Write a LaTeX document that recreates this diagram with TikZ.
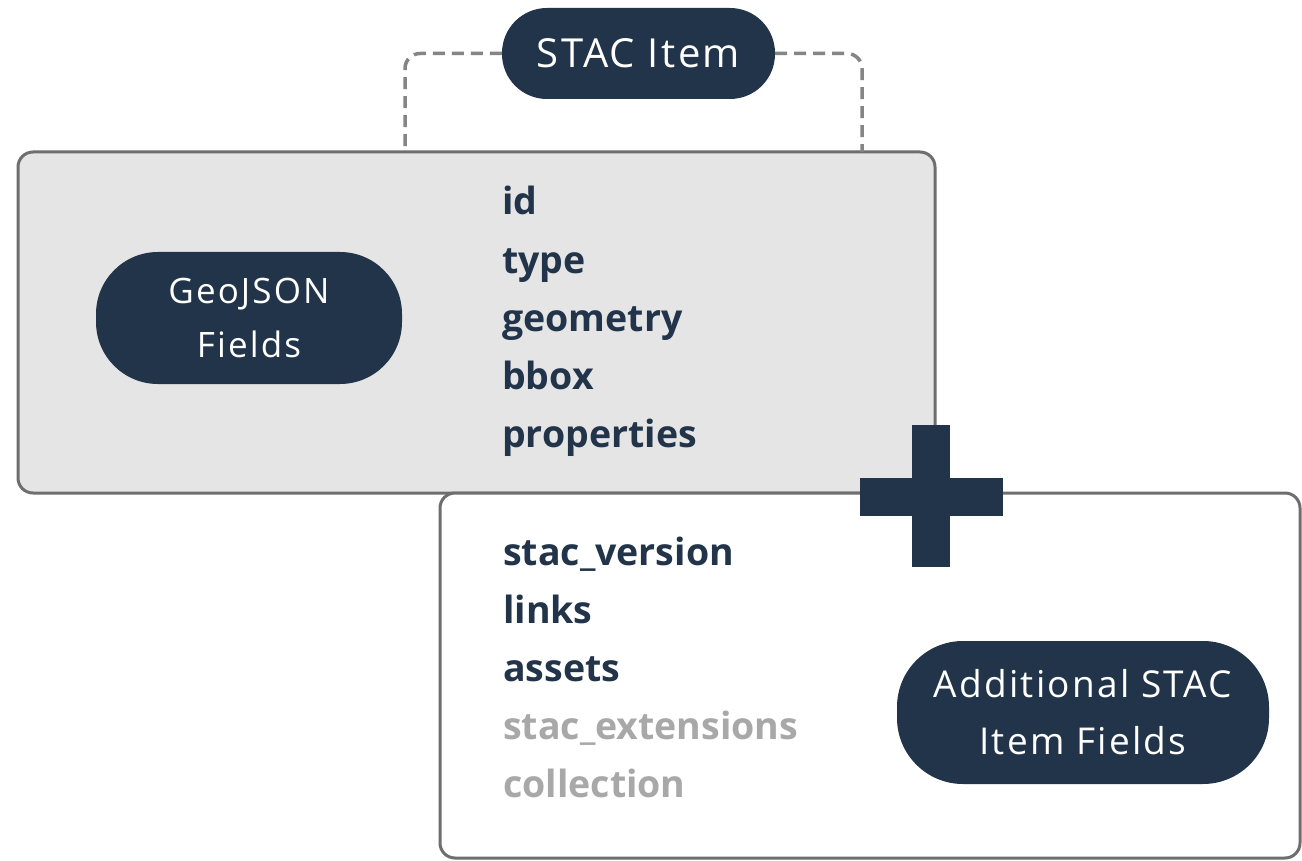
\documentclass[tikz,border=0pt]{standalone}
\usepackage{fontspec}
\setmainfont{Open Sans}
\newfontfamily\pillfont[LetterSpace=6]{Open Sans}
\definecolor{navy}{HTML}{22344A}
\definecolor{boxgray}{HTML}{E5E5E5}
\definecolor{edgegray}{HTML}{6E6E6E}
\definecolor{dashgray}{HTML}{858585}
\definecolor{softtext}{HTML}{A8A8A8}
\tikzset{
  panel/.style={draw=edgegray, line width=3pt, rounded corners=15pt, inner sep=0pt},
  pill/.style={fill=navy, text=white, inner sep=0pt, align=center},
  dashline/.style={draw=dashgray, line width=3.5pt, dash pattern=on 12pt off 7pt, rounded corners=15pt},
  field/.style={anchor=base west, inner sep=0pt, font=\fontsize{37.5}{40}\selectfont\bfseries, text=navy},
  optfield/.style={field, text=softtext},
  plusbar/.style={fill=navy}
}
\begin{document}
\begin{tikzpicture}[x=1pt,y=-1pt]
\useasboundingbox (0,0) rectangle (1302,861);
\fill[white] (0,0) rectangle (1302,861);

% GeoJSON panel
\node[panel, fill=boxgray, minimum width=917pt, minimum height=341pt] (geo) at (476.5,322.5) {};
% Additional panel
\node[panel, fill=white, minimum width=860pt, minimum height=365pt] (add) at (870,675.5) {};

% STAC Item pill
\node[pill, rounded corners=45pt, minimum width=273pt, minimum height=91pt,
      font=\pillfont\fontsize{40}{44}\selectfont] (stac) at (638.5,53.5) {STAC Item};

\coordinate (dl) at (405,152);
\coordinate (dr) at (862,152);
\draw[dashline] (stac.west) -| (dl);
\draw[dashline] (stac.east) -| (dr);

% GeoJSON pill
\node[pill, rounded corners=62pt, minimum width=306pt, minimum height=132pt,
      font=\pillfont\fontsize{35}{54}\selectfont] (geopill) at (249,318) {GeoJSON\\Fields};

% Additional pill
\node[pill, rounded corners=66pt, minimum width=372pt, minimum height=143pt,
      font=\pillfont\fontsize{37}{57}\selectfont] (addpill) at (1083,712.5) {Additional STAC\\Item Fields};

% GeoJSON fields
\node[field] (f1) at (502,215) {id};
\node[field] (f2) at (502,273) {type};
\node[field] (f3) at (502,331) {geometry};
\node[field] (f4) at (502,389) {bbox};
\node[field] (f5) at (502,447) {properties};

% STAC fields
\node[field] (s1) at (503,565) {stac\_version};
\node[field] (s2) at (503,623) {links};
\node[field] (s3) at (503,681) {assets};
\node[optfield] (s4) at (503,739) {stac\_extensions};
\node[optfield] (s5) at (503,797) {collection};

% plus sign
\fill[plusbar] (912,425) rectangle (950,567);
\fill[plusbar] (860,478) rectangle (1003,516);
\end{tikzpicture}
\end{document}
